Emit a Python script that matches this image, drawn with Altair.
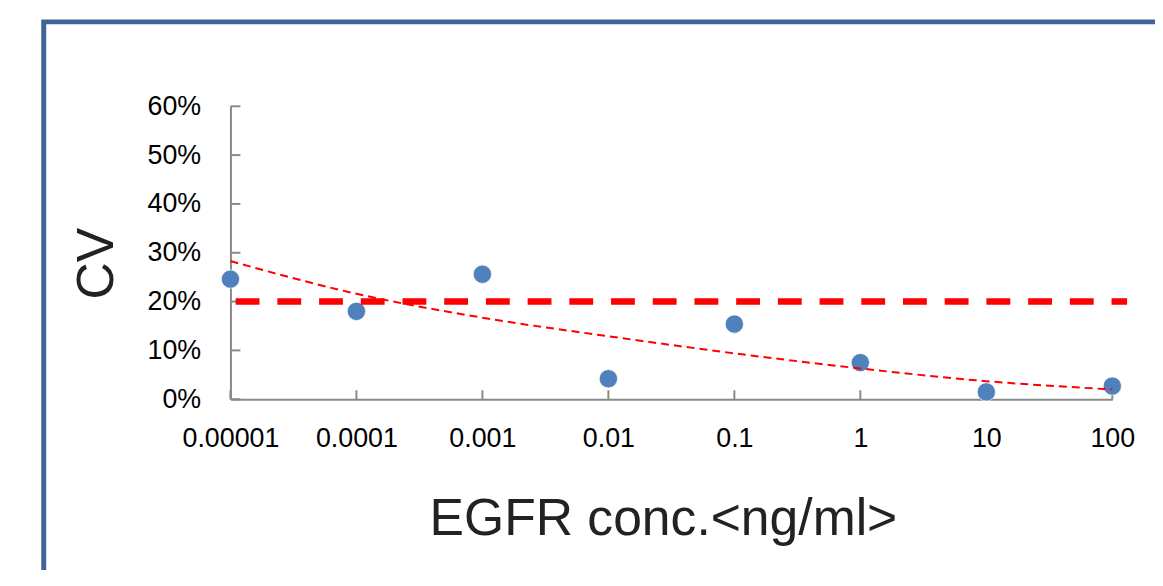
import altair as alt
import pandas as pd

# ---- data ----
conc = [1e-05, 1e-04, 1e-03, 1e-02, 1e-01, 1, 10, 100]
cv = [0.246, 0.180, 0.256, 0.042, 0.154, 0.075, 0.015, 0.027]

trend_conc = [1e-05, 1e-04, 1e-03, 1e-02, 1e-01, 1, 10, 100]
trend_cv = [0.283, 0.216, 0.167, 0.129, 0.094, 0.063, 0.037, 0.020]

limit_conc = [1.1e-05, 131]
limit_cv = [0.20, 0.20]

x_tick_values = [1e-05, 1e-04, 1e-03, 1e-02, 1e-01, 1, 10, 100]
x_tick_labels = ["0.00001", "0.0001", "0.001", "0.01", "0.1", "1", "10", "100"]
y_tick_values = [0, 0.1, 0.2, 0.3, 0.4, 0.5, 0.6]

W, H = 888, 295
AXIS_GRAY = "#898989"
FONT = "Liberation Sans"

x_scale = alt.Scale(type="log", domain=[1e-05, 100])
y_scale = alt.Scale(domain=[0, 0.6])

label_expr = "[" + ",".join("'%s'" % s for s in x_tick_labels) + "][round(log(datum.value)/LN10)+5]"

x_axis = alt.Axis(
    values=x_tick_values, labelExpr=label_expr, ticks=False, grid=False,
    domainColor=AXIS_GRAY, domainWidth=2,
    labelFont=FONT, labelFontSize=27, labelColor="#000000",
    labelPadding=27, labelFlush=False, labelOverlap=False,
    title="EGFR conc.<ng/ml>", titleFont=FONT, titleFontSize=52,
    titleFontWeight="normal", titleColor="#222222",
    titleBaseline="alphabetic", titleX=435.5, titleY=136.7,
)
y_axis = alt.Axis(
    values=y_tick_values, format="%", ticks=False, grid=False,
    domainColor=AXIS_GRAY, domainWidth=2,
    labelFont=FONT, labelFontSize=27, labelColor="#000000",
    labelPadding=30, labelOverlap=False,
    title="CV", titleFont=FONT, titleFontSize=52,
    titleFontWeight="normal", titleColor="#222222", titleAngle=270,
    titleBaseline="alphabetic", titleX=-119, titleY=158,
)

X = alt.X("conc:Q", scale=x_scale, axis=x_axis)
Y = alt.Y("cv:Q", scale=y_scale, axis=y_axis)

points_df = pd.DataFrame({"conc": conc, "cv": cv})
trend_df = pd.DataFrame({"conc": trend_conc, "cv": trend_cv})
limit_df = pd.DataFrame({"conc": limit_conc, "cv": limit_cv})
xt_df = pd.DataFrame({"conc": x_tick_values})
yt_df = pd.DataFrame({"cv": y_tick_values})

frame = alt.Chart(pd.DataFrame({"k": [0]})).mark_rect(
    fillOpacity=0, stroke="#3F6496", strokeWidth=5
).encode(x=alt.value(-188), x2=alt.value(968), y=alt.value(-85), y2=alt.value(515))

x_ticks = alt.Chart(xt_df).mark_rule(color=AXIS_GRAY, strokeWidth=2).encode(
    x=X, y=alt.value(H), y2=alt.value(H - 9)
)
y_ticks = alt.Chart(yt_df).mark_rule(color=AXIS_GRAY, strokeWidth=2).encode(
    y=Y, x=alt.value(0), x2=alt.value(10)
)

points = alt.Chart(points_df).mark_circle(
    size=340, color="#4F81BD", opacity=1, stroke="#ffffff", strokeWidth=0.7
).encode(x=X, y=Y)

limit = alt.Chart(limit_df).mark_line(
    color="#FF0000", strokeWidth=6.5, strokeDash=[24, 18]
).encode(x=X, y=Y)

trend = alt.Chart(trend_df).mark_line(
    color="#FF0000", strokeWidth=2, strokeDash=[8, 5], interpolate="monotone"
).encode(x=X, y=Y)

chart = alt.layer(frame, x_ticks, y_ticks, points, limit, trend).properties(
    width=W, height=H,
    autosize=alt.AutoSizeParams(type="none"),
    padding={"left": 224, "top": 97, "right": 43, "bottom": 170},
    background="#ffffff",
).configure_view(strokeWidth=0)

chart.save("out.html", embed_options={"renderer": "svg", "actions": False})
